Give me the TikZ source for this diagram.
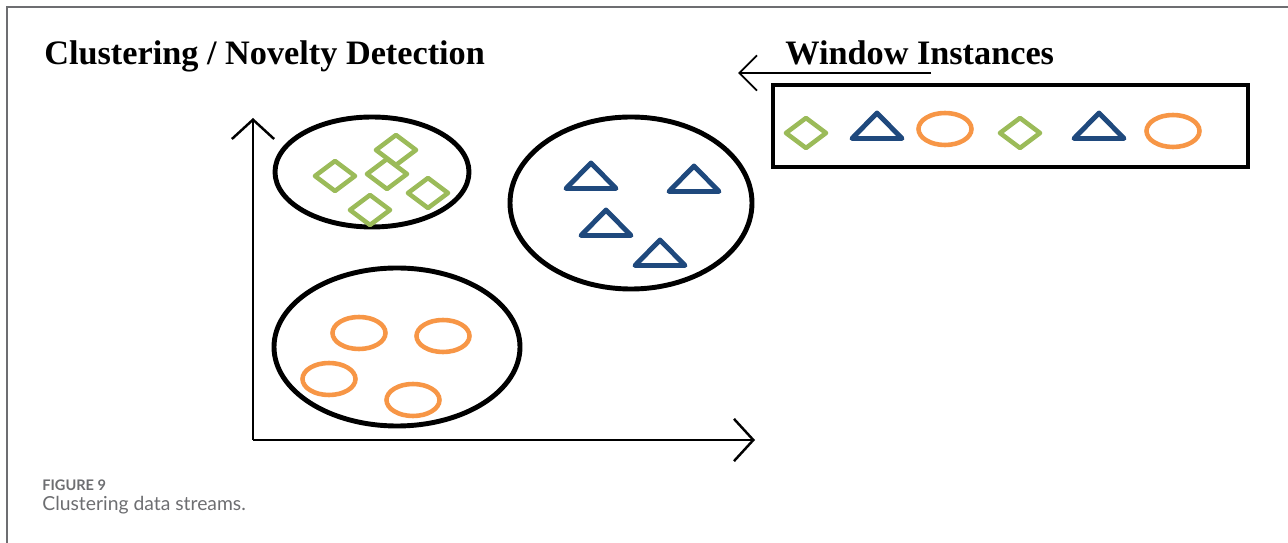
\documentclass[tikz,border=0pt]{standalone}
\usepackage{fontspec}
\setmainfont{Liberation Serif}
\newfontfamily\capfont{Lato}
\usepackage{tikz}
\usetikzlibrary{arrows.meta}
\definecolor{gemgreen}{HTML}{9BBB59}
\definecolor{triblue}{HTML}{1F497D}
\definecolor{ovalorange}{HTML}{F79646}
\definecolor{capgray}{HTML}{6D6E71}

\begin{document}
\begin{tikzpicture}[x=0.02cm,y=-0.02cm,
		heading/.style={anchor=base west,inner sep=0pt,font=\bfseries\fontsize{19.5}{23}\selectfont},
		axis/.style={line width=1.4pt,-{Straight Barb[length=11pt,width=24pt,line width=1.4pt]}},
		cluster/.style={line width=2.8pt},
		gem/.style={gemgreen,line width=2.6pt,line join=round},
		tri/.style={triblue,line width=2.8pt,line join=round},
		oval/.style={ovalorange,line width=2.6pt}]
		\useasboundingbox (0,0) rectangle (1288,543);
		\draw[capgray,line width=1.1pt] (7,543) -- (7,7) -- (1288,7);
		% headings
		\node[heading] (title) at (44,65) {Clustering / Novelty Detection};
		\node[heading] (wintitle) at (785,65) {Window Instances};
		\coordinate (wstart) at (931,73);
		\coordinate (wend) at (738,73);
		\draw[line width=1.1pt,-{Straight Barb[length=10pt,width=20pt,line width=1.1pt]}] (wstart) -- (wend);
		% axes
		\coordinate (origin) at (253,440);
		\coordinate (ytip) at (253,118);
		\coordinate (xtip) at (755,440);
		\draw[axis] (origin) -- (ytip);
		\draw[axis] (origin) -- (xtip);
		% clusters
		\draw[cluster] (372,172) ellipse [x radius=97, y radius=55];
		\draw[cluster] (631,203) ellipse [x radius=121, y radius=86];
		\draw[cluster] (397,347) ellipse [x radius=123, y radius=79];
		% window
		\draw[line width=2.8pt] (773,85) rectangle (1248,167);
		\foreach \x/\y in {335/176,387/174,396/150,428/193,370/210,806/133,1020/133}
			\draw[gem] (\x,\y) +(-20,0) -- +(0,-15) -- +(20,0) -- +(0,15) -- cycle;
		\foreach \x/\y in {591/176,694/179,606/223,660/253,877/126,1099/126}
			\draw[tri] (\x,\y) +(0,-13) -- +(25,12.5) -- +(-25,12.5) -- cycle;
		\foreach \x/\y in {359/333,443/336,329/379,413/400,945/129,1173/131}
			\draw[oval] (\x,\y) ellipse [x radius=26.5, y radius=16];
		% caption
		\node[anchor=base west,inner sep=0pt,text=capgray,font=\capfont\bfseries\fontsize{8.3}{10}\selectfont] (fig) at (42,491) {FIGURE 9};
		\node[anchor=base west,inner sep=0pt,text=capgray,font=\capfont\fontsize{11}{13}\selectfont] (cap) at (42,511) {Clustering data streams.};
	\end{tikzpicture}
\end{document}
